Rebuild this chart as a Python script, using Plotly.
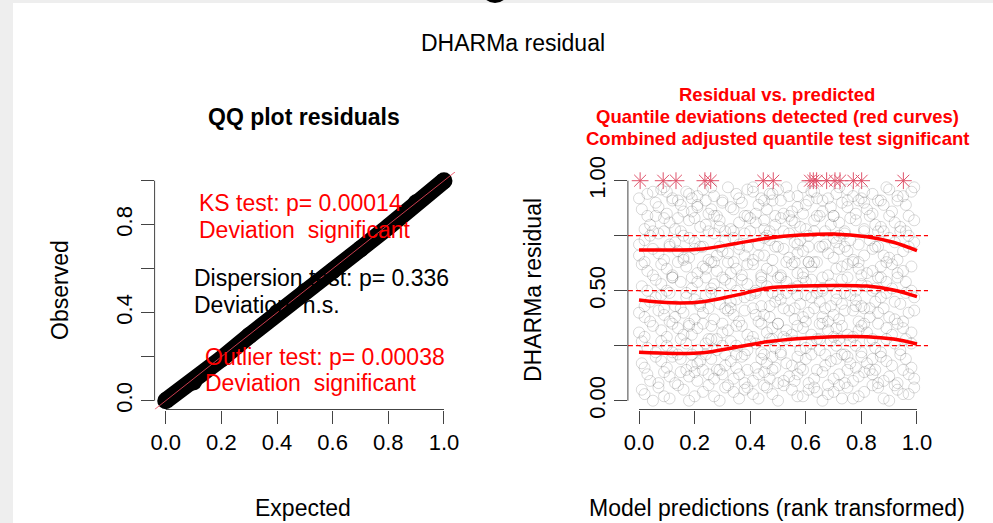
import plotly.graph_objects as go

# --- QQ plot (left panel): band of observed vs expected quantiles
qq_expected = [0.0, 0.1, 0.2, 0.3, 0.4, 0.5, 0.6, 0.7, 0.8, 0.9, 1.0]
qq_observed = [0.0, 0.085, 0.19, 0.295, 0.40, 0.495, 0.59, 0.69, 0.79, 0.90, 1.0]

# --- residual vs predicted (right panel), values in percent, "x:y" pairs read by row
cloud_rows = [
    "2:3 7:6 11:1 16:5 20:2 25:7 29:0 34:4 39:6 43:1 48:3 52:7 57:2 61:5 66:0 70:4 75:6 79:2 84:7 88:1 93:5 97:3 5:0 46:6 73:1",
    "4:9 9:13 13:8 18:11 23:14 27:10 32:7 36:12 41:9 45:13 50:8 54:11 59:14 63:10 68:7 72:12 77:9 81:13 86:8 90:11 95:14 99:10 30:12 56:9 83:14",
    "1:17 6:20 10:15 15:19 19:16 24:21 28:14 33:18 37:20 42:15 46:17 51:21 55:16 60:19 64:14 69:18 73:21 78:15 82:17 87:20 91:16 96:19 22:18 49:15 75:20",
    "3:24 8:27 12:22 17:26 21:23 26:28 31:21 35:25 40:27 44:22 49:24 53:28 58:23 62:26 67:21 71:25 76:27 80:22 85:24 89:28 94:23 98:26 14:21 39:23 65:28",
    "0:31 5:34 10:29 14:33 19:30 23:35 28:28 32:32 37:34 41:29 46:31 50:35 55:30 59:33 64:28 68:32 73:34 77:29 82:31 86:35 91:30 95:33 48:33 70:29 26:34",
    "2:38 7:41 11:36 16:40 20:37 25:42 30:35 34:39 38:41 43:36 47:38 52:42 56:37 61:40 65:35 70:39 74:41 79:36 83:38 88:42 92:37 97:40 60:36 9:39 81:42",
    "4:45 8:48 13:43 17:47 22:44 26:49 31:42 35:46 40:48 44:43 49:45 53:49 58:44 62:47 67:42 71:46 76:48 80:43 85:45 89:49 94:44 99:47 33:45 57:48 78:43",
    "1:52 6:55 10:50 15:54 19:51 24:56 29:49 33:53 37:55 42:50 46:52 51:56 55:51 60:54 64:49 69:53 73:55 78:50 82:52 87:56 91:51 96:54 44:54 66:50 12:56",
    "3:59 8:62 12:57 17:61 21:58 26:63 30:56 35:60 39:62 44:57 48:59 53:63 57:58 62:61 66:56 71:60 75:62 80:57 84:59 89:63 93:58 98:61 24:60 51:57 87:61",
    "0:66 5:69 9:64 14:68 18:65 23:70 27:63 32:67 36:69 41:64 45:66 50:70 54:65 59:68 63:63 68:67 72:69 77:64 81:66 86:70 90:65 95:68 38:66 61:70 16:64",
    "2:73 7:76 11:71 16:75 20:72 25:77 29:70 34:74 38:76 43:71 47:73 52:77 56:72 61:75 65:70 70:74 74:76 79:71 83:73 88:77 92:72 97:75 46:75 71:72 5:77",
    "4:80 9:83 13:78 18:82 22:79 27:84 31:77 36:81 40:83 45:78 49:80 54:84 58:79 63:82 67:77 72:81 76:83 81:78 85:80 90:84 94:79 99:82 29:79 55:82 86:77",
    "1:87 6:90 10:85 15:89 19:86 24:91 28:84 33:88 37:90 42:85 46:87 51:91 55:86 60:89 64:84 69:88 73:90 78:85 82:87 87:91 91:86 96:89 21:88 49:84 75:91",
    "3:94 8:96 12:92 17:95 21:93 26:97 30:91 35:94 39:96 44:92 48:94 53:97 57:93 62:95 66:91 71:94 75:96 80:92 84:94 89:97 93:93 98:95 41:97 64:92 10:95",
    "1:5 9:2 14:7 18:0 23:4 31:6 36:1 41:3 45:7 50:0 55:5 59:2 63:6 68:3 72:7 77:1 81:4 86:6 90:0 95:3 99:6 27:2 38:5 64:4 92:7",
    "3:12 7:8 15:13 21:9 25:12 29:14 34:10 38:8 43:12 48:14 52:9 57:12 61:8 66:13 70:10 75:14 79:11 84:12 88:9 93:8 97:12 11:11 47:10 74:8 20:13",
    "2:15 8:18 12:20 17:14 21:17 26:19 31:16 35:21 39:14 44:19 48:20 53:17 58:15 62:21 67:16 71:19 76:17 80:20 85:14 89:18 94:21 98:15 35:15 57:20 84:19",
    "1:27 6:22 10:25 15:28 19:21 24:26 28:23 33:27 38:21 42:26 47:28 51:22 56:27 60:24 65:23 69:27 74:21 78:25 83:27 87:22 92:26 96:28 30:25 45:21 72:28",
    "2:29 8:32 12:35 16:30 21:33 25:28 30:31 35:34 39:30 44:35 48:28 53:32 57:34 62:30 66:35 71:33 75:30 80:34 84:28 89:33 93:35 98:31 18:34 52:29 79:32",
    "0:40 4:36 9:42 13:38 18:35 23:40 27:37 32:41 36:36 41:42 45:39 50:35 54:41 59:38 63:42 68:36 72:37 77:41 81:35 86:40 90:38 95:36 99:41 42:39 66:38",
    "2:43 6:47 11:49 15:42 20:46 24:48 29:44 33:42 38:47 42:49 47:43 51:46 56:42 60:48 65:45 69:43 74:49 78:46 83:42 87:47 92:45 96:49 22:43 50:48 73:44",
    "3:50 8:53 12:56 17:49 21:54 26:51 31:55 35:50 39:53 44:56 48:49 53:54 57:52 62:55 66:51 71:49 75:56 80:53 84:50 89:54 93:56 98:50 27:53 59:56 85:51",
    "1:62 5:57 10:60 14:63 19:56 23:61 28:59 32:63 37:57 41:62 46:60 50:56 55:62 59:58 64:63 68:57 73:61 77:63 82:58 86:56 91:62 95:59 33:58 61:63 79:60",
    "2:63 7:67 11:70 16:65 20:69 25:64 30:68 34:63 39:70 43:66 48:64 52:69 57:67 61:63 66:70 70:65 75:68 79:63 84:69 88:66 93:64 97:70 28:66 56:63 74:70",
    "0:71 4:75 9:77 13:72 18:74 22:70 27:76 31:73 36:71 40:77 45:74 49:70 54:76 58:73 63:77 67:71 72:75 76:73 81:77 85:70 90:74 94:77 99:72 57:71 34:77",
    "2:78 6:84 11:81 15:77 20:83 24:80 29:82 33:78 38:84 42:81 47:77 51:83 56:81 60:78 65:84 69:80 74:77 78:82 83:84 87:79 92:81 96:77 14:83 45:82 70:84",
    "3:84 7:88 12:91 16:86 21:89 25:85 30:90 34:87 39:84 43:89 48:91 52:85 57:88 61:91 66:86 70:84 75:88 79:91 84:85 88:89 93:91 97:84 26:87 59:85 81:90",
    "0:92 5:95 9:97 14:91 18:94 23:96 27:93 32:97 36:92 41:95 45:91 50:96 54:93 59:97 63:95 68:92 72:97 77:93 81:95 86:91 90:96 95:93 99:97 47:94 19:92",
]

outlier_x = [0.004, 0.087, 0.133, 0.237, 0.258, 0.447, 0.483, 0.615, 0.627, 0.639,
             0.675, 0.705, 0.723, 0.771, 0.801, 0.951]
outlier_y = [1.0] * len(outlier_x)

# quantile regression curves
q_x = [0.0, 0.12, 0.23, 0.35, 0.46, 0.58, 0.70, 0.82, 0.915, 1.0]
q75 = [0.685, 0.685, 0.690, 0.715, 0.738, 0.753, 0.758, 0.745, 0.720, 0.682]
q50 = [0.458, 0.445, 0.450, 0.480, 0.511, 0.521, 0.524, 0.521, 0.503, 0.473]
q25 = [0.220, 0.215, 0.218, 0.243, 0.268, 0.283, 0.291, 0.291, 0.280, 0.258]
q_levels = [0.25, 0.5, 0.75]

cloud_x, cloud_y = [], []
for row in cloud_rows:
    for pair in row.split():
        a, b = pair.split(':')
        cloud_x.append(int(a) / 100)
        cloud_y.append(int(b) / 100)

FONT = 'Liberation Sans, Arial, sans-serif'
W, H = 993, 523
RED = '#FF0000'
AXC = '#444444'
OUT_COL = '#DF536B'


def px(x):
    return x / W


def py(y):
    return 1 - y / H


fig = go.Figure()

# left panel
fig.add_trace(go.Scatter(
    x=qq_expected, y=qq_observed, mode='lines+markers',
    line=dict(color='black', width=17),
    marker=dict(color='black', size=17),
    xaxis='x', yaxis='y', hoverinfo='skip'))
fig.add_trace(go.Scatter(
    x=[-0.04, 1.04], y=[-0.04, 1.04], mode='lines',
    line=dict(color='rgba(235,70,90,0.85)', width=1),
    xaxis='x', yaxis='y', hoverinfo='skip'))

# right panel
fig.add_trace(go.Scatter(
    x=cloud_x, y=cloud_y, mode='markers',
    marker=dict(symbol='circle-open', size=11, color='rgba(0,0,0,0.15)',
                line=dict(width=1)),
    xaxis='x2', yaxis='y2', hoverinfo='skip'))
fig.add_trace(go.Scatter(
    x=outlier_x, y=outlier_y, mode='markers',
    marker=dict(symbol='asterisk-open', size=14, color=OUT_COL, line=dict(width=1)),
    xaxis='x2', yaxis='y2', hoverinfo='skip'))
for qy in [q25, q50, q75]:
    fig.add_trace(go.Scatter(
        x=q_x, y=qy, mode='lines', line=dict(color=RED, width=3.5, shape='spline'),
        xaxis='x2', yaxis='y2', hoverinfo='skip'))

for lv in q_levels:
    fig.add_shape(type='line', xref='x2', yref='y2', x0=-0.04, x1=1.04, y0=lv, y1=lv,
                  line=dict(color=RED, width=1.2, dash='5px,3px'))

ax_common = dict(range=[-0.04, 1.04], showgrid=False, zeroline=False, showline=False,
                 automargin=False, ticks='outside', ticklen=13, tickcolor=AXC, tickwidth=1,
                 tickfont=dict(size=22, color='black', family=FONT))
xt = [0, 0.2, 0.4, 0.6, 0.8, 1.0]
xl = ['0.0', '0.2', '0.4', '0.6', '0.8', '1.0']
dom_y = [py(409.5), py(171.9)]

fig.update_layout(
    xaxis=dict(domain=[px(154.6), px(455.1)], anchor='y', tickvals=xt, ticktext=xl, **ax_common),
    yaxis=dict(domain=dom_y, anchor='x', tickvals=xt,
               ticktext=['0.0', '', '0.4', '', '0.8', ''], tickangle=-90, **ax_common),
    xaxis2=dict(domain=[px(627.9), px(928.1)], anchor='y2', tickvals=xt, ticktext=xl, **ax_common),
    yaxis2=dict(domain=dom_y, anchor='x2', tickvals=[0, 0.25, 0.5, 0.75, 1.0],
                ticktext=['0.00', '', '0.50', '', '1.00'], tickangle=-90, **ax_common),
)

# axis lines spanning only the 0..1 tick range (as in base R)
lo, hi = 0.04 / 1.08, 1.04 / 1.08
for xa, ya in [('x', 'y'), ('x2', 'y2')]:
    fig.add_shape(type='line', xref=xa + ' domain', yref=ya + ' domain',
                  x0=lo, x1=hi, y0=0, y1=0, line=dict(color=AXC, width=1))
    fig.add_shape(type='line', xref=xa + ' domain', yref=ya + ' domain',
                  x0=0, x1=0, y0=lo, y1=hi, line=dict(color=AXC, width=1))

# window frame from the screenshot
fig.add_shape(type='rect', xref='paper', yref='paper', x0=0, x1=px(13), y0=0, y1=1,
              fillcolor='#eeeeee', line=dict(width=0))
fig.add_shape(type='rect', xref='paper', yref='paper', x0=0, x1=1, y0=py(3), y1=1,
              fillcolor='#eeeeee', line=dict(width=0))
fig.add_shape(type='circle', xref='paper', yref='paper', x0=px(484), x1=px(506),
              y0=py(1.5), y1=py(-16), line=dict(color='black', width=3))

ann = []


def txt(text, x, y, size, color='black', bold=False, xanchor='center', ref='paper', angle=0):
    if bold:
        text = '<b>' + text + '</b>'
    xr, yr = ('paper', 'paper') if ref == 'paper' else ref
    ann.append(dict(text=text, x=x, y=y, xref=xr, yref=yr, showarrow=False,
                    xanchor=xanchor, yanchor='middle', textangle=angle,
                    font=dict(size=size, color=color, family=FONT)))


txt('DHARMa residual', px(513), py(43.3), 23)
txt('QQ plot residuals', px(304), py(117), 23, bold=True)
txt('Residual vs. predicted', px(777), py(95), 18.5, RED, bold=True)
txt('Quantile deviations detected (red curves)', px(777), py(116.7), 18.5, RED, bold=True)
txt('Combined adjusted quantile test significant', px(777), py(138.3), 18.5, RED, bold=True)
txt('Expected', px(303), py(508), 23)
txt('Model predictions (rank transformed)', px(777), py(508), 23)
txt('Observed', px(60), py(290), 23, angle=-90)
txt('DHARMa residual', px(533), py(290), 23, angle=-90)

dev = 'Deviation \u00a0'
txt('KS test: p= 0.00014', 0.111, 0.90, 23, RED, xanchor='left', ref=('x', 'y'))
txt(dev + 'significant', 0.111, 0.776, 23, RED, xanchor='left', ref=('x', 'y'))
txt('Dispersion test: p= 0.336', 0.093, 0.558, 23, xanchor='left', ref=('x', 'y'))
txt(dev + 'n.s.', 0.093, 0.435, 23, xanchor='left', ref=('x', 'y'))
txt('Outlier test: p= 0.00038', 0.133, 0.20, 23, RED, xanchor='left', ref=('x', 'y'))
txt(dev + 'significant', 0.133, 0.08, 23, RED, xanchor='left', ref=('x', 'y'))

fig.update_layout(
    annotations=ann,
    width=W, height=H, margin=dict(l=0, r=0, t=0, b=0, autoexpand=False),
    paper_bgcolor='white', plot_bgcolor='white',
    showlegend=False, font=dict(family=FONT),
)

# drop the page's default body margin so the 993x523 figure fills the window
fig.write_html('out.html', config={'displayModeBar': False},
               post_script="document.body.style.margin='0';document.body.style.overflow='hidden';")
